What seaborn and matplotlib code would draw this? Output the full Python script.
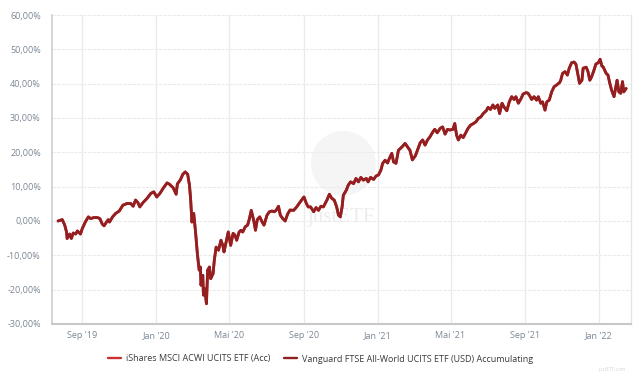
import matplotlib
matplotlib.use("Agg")
import numpy as np
import pandas as pd
import matplotlib.pyplot as plt
import matplotlib.ticker as mticker
from matplotlib.lines import Line2D
from matplotlib.patches import Ellipse
import seaborn as sns

# ---------------------------------------------------------------------------
#   DATA (performance in %)
# ---------------------------------------------------------------------------
dates = [
    "2019-07-23", "2019-07-30", "2019-08-03", "2019-08-06", "2019-08-07", "2019-08-11", "2019-08-14",
    "2019-08-17", "2019-08-21", "2019-08-24", "2019-08-29",
    "2019-09-01", "2019-09-06", "2019-09-11", "2019-09-15", "2019-09-20", "2019-09-26", "2019-09-30",
    "2019-10-04", "2019-10-07", "2019-10-11", "2019-10-14", "2019-10-16", "2019-10-21", "2019-10-26",
    "2019-11-01", "2019-11-07", "2019-11-14", "2019-11-20", "2019-11-24", "2019-11-28",
    "2019-12-02", "2019-12-05", "2019-12-10", "2019-12-17", "2019-12-23", "2019-12-28",
    "2020-01-02", "2020-01-07", "2020-01-14", "2020-01-19", "2020-01-23", "2020-01-29",
    "2020-02-03", "2020-02-05", "2020-02-10", "2020-02-14", "2020-02-18", "2020-02-22", "2020-02-25",
    "2020-02-27", "2020-02-29",
    "2020-03-03", "2020-03-06", "2020-03-09", "2020-03-12", "2020-03-14", "2020-03-15", "2020-03-18",
    "2020-03-19", "2020-03-21", "2020-03-24", "2020-03-26", "2020-03-29", "2020-03-31",
    "2020-04-04", "2020-04-06", "2020-04-09", "2020-04-13", "2020-04-17", "2020-04-20", "2020-04-22",
    "2020-04-26", "2020-04-29",
    "2020-05-03", "2020-05-07", "2020-05-10", "2020-05-13", "2020-05-17", "2020-05-20", "2020-05-23",
    "2020-05-27", "2020-05-31",
    "2020-06-03", "2020-06-06", "2020-06-10", "2020-06-13", "2020-06-16", "2020-06-20", "2020-06-24",
    "2020-06-27",
    "2020-07-02", "2020-07-06", "2020-07-10", "2020-07-14", "2020-07-17", "2020-07-21", "2020-07-24",
    "2020-07-28",
    "2020-08-01", "2020-08-05", "2020-08-09", "2020-08-15", "2020-08-20", "2020-08-26",
    "2020-09-01", "2020-09-05", "2020-09-08", "2020-09-12", "2020-09-17", "2020-09-21", "2020-09-25",
    "2020-09-29",
    "2020-10-03", "2020-10-09", "2020-10-13", "2020-10-17", "2020-10-21", "2020-10-25", "2020-10-28",
    "2020-10-31",
    "2020-11-03", "2020-11-05", "2020-11-10", "2020-11-13", "2020-11-17", "2020-11-22", "2020-11-26",
    "2020-11-30",
    "2020-12-04", "2020-12-08", "2020-12-13", "2020-12-16", "2020-12-20", "2020-12-25", "2020-12-29",
    "2021-01-02", "2021-01-06", "2021-01-09", "2021-01-13", "2021-01-17", "2021-01-20", "2021-01-24",
    "2021-01-27", "2021-01-31",
    "2021-02-04", "2021-02-10", "2021-02-15", "2021-02-19", "2021-02-23", "2021-02-27",
    "2021-03-04", "2021-03-07", "2021-03-12", "2021-03-16", "2021-03-20", "2021-03-24", "2021-03-28",
    "2021-04-02", "2021-04-05", "2021-04-09", "2021-04-14", "2021-04-18", "2021-04-22", "2021-04-26",
    "2021-04-30",
    "2021-05-05", "2021-05-08", "2021-05-11", "2021-05-14", "2021-05-18", "2021-05-22", "2021-05-27",
    "2021-05-30",
    "2021-06-03", "2021-06-08", "2021-06-12", "2021-06-16", "2021-06-20", "2021-06-24", "2021-06-29",
    "2021-07-02", "2021-07-06", "2021-07-10", "2021-07-13", "2021-07-18", "2021-07-21", "2021-07-25",
    "2021-07-28",
    "2021-08-02", "2021-08-06", "2021-08-10", "2021-08-14", "2021-08-17", "2021-08-21", "2021-08-25",
    "2021-08-29",
    "2021-09-03", "2021-09-06", "2021-09-09", "2021-09-12", "2021-09-16", "2021-09-20", "2021-09-23",
    "2021-09-27", "2021-09-30",
    "2021-10-04", "2021-10-07", "2021-10-11", "2021-10-15", "2021-10-19", "2021-10-23", "2021-10-28",
    "2021-10-30",
    "2021-11-02", "2021-11-06", "2021-11-10", "2021-11-13", "2021-11-17", "2021-11-21", "2021-11-24",
    "2021-11-27", "2021-11-30",
    "2021-12-04", "2021-12-06", "2021-12-11", "2021-12-14", "2021-12-17", "2021-12-20", "2021-12-24",
    "2021-12-27", "2021-12-31",
    "2022-01-03", "2022-01-06", "2022-01-08", "2022-01-13", "2022-01-16", "2022-01-19", "2022-01-22",
    "2022-01-26", "2022-01-29", "2022-01-31",
    "2022-02-03", "2022-02-06", "2022-02-09", "2022-02-11", "2022-02-15",
]

ishares = [
    0.0, 0.4, -1.2, -3.2, -5.1, -3.8, -5.1, -3.5, -3.8, -2.9, -3.8,
    -2.2, -0.3, 1.2, 0.7, 1.0, 1.0, 0.7,
    -0.9, -1.4, -0.3, 0.4, -0.3, 1.2, 2.2,
    2.9, 4.6, 5.1, 5.1, 4.3, 6.1,
    5.3, 4.1, 5.3, 6.6, 8.0, 8.5,
    7.0, 8.0, 9.9, 11.1, 10.7, 9.7,
    7.8, 10.8, 12.0, 13.6, 14.3, 13.6, 10.4, 6.1, -0.3,
    2.2, -3.2, -9.5, -14.3, -13.4, -18.7, -15.8, -21.6, -19.7, -24.1, -14.3, -13.4, -16.8,
    -15.3, -11.4, -7.6, -8.5, -5.6, -7.1, -9.0, -5.6, -3.2,
    -7.1, -3.6, -4.1, -5.6, -3.2, -2.7, -3.2, -1.7, -1.2,
    0.7, 3.1, 0.2, -2.7, 0.4, 1.2, -0.3, -1.2,
    1.7, 2.7, 2.9, 2.7, 3.1, 4.3, 1.7, 0.7,
    0.0, 2.0, 3.2, 3.1, 4.1, 5.6,
    7.0, 5.1, 4.1, 4.1, 2.7, 3.9, 3.1, 4.3,
    4.1, 6.1, 7.8, 6.6, 6.1, 4.1, 1.7, 1.2,
    4.1, 7.5, 9.0, 10.4, 11.4, 10.9, 12.4, 11.4,
    12.7, 11.9, 12.4, 11.4, 12.7, 12.1, 13.1,
    13.4, 14.8, 16.8, 17.7, 16.9, 18.2, 19.7, 17.2, 16.8,
    20.6, 21.6, 22.6, 21.6, 20.6, 17.8,
    19.0, 20.4, 22.8, 23.6, 22.1, 23.6, 24.5,
    26.0, 26.7, 25.7, 27.0, 27.4, 25.3, 26.7, 26.5,
    26.7, 28.4, 25.0, 23.6, 25.0, 24.3, 26.0, 27.0,
    27.9, 28.4, 28.9, 29.9, 30.3, 31.3, 32.1,
    33.1, 32.5, 33.8, 32.8, 33.8, 31.3, 34.3, 33.3,
    32.1, 34.7, 36.2, 35.4, 36.2, 34.3, 35.5, 37.0,
    37.4, 37.2, 36.4, 35.4, 36.2, 35.2, 36.2, 34.3, 34.7,
    32.3, 34.7, 35.2, 37.6, 39.1, 39.6, 40.3, 41.0,
    43.0, 43.5, 42.5, 44.5, 46.1, 46.3, 45.7, 43.0, 40.1,
    41.0, 44.5, 44.8, 43.5, 41.0, 42.0, 44.0, 45.7, 46.1,
    47.1, 45.1, 44.9, 43.0, 42.5, 40.1, 38.1, 36.2, 39.1, 41.0,
    37.6, 37.2, 40.6, 37.6, 38.6,
]

# the two funds overlap completely at this resolution
vanguard = list(ishares)

fund_names = ["iShares MSCI ACWI UCITS ETF (Acc)",
              "Vanguard FTSE All-World UCITS ETF (USD) Accumulating"]
fund_colors = ["#c8322f", "#931f21"]

y_ticks = [-30, -20, -10, 0, 10, 20, 30, 40, 50, 60]
x_tick_dates = ["2019-09-01", "2020-01-01", "2020-05-01", "2020-09-01",
                "2021-01-01", "2021-05-01", "2021-09-01", "2022-01-01"]
x_tick_labels = ["Sep '19", "Jan '20", "Mai '20", "Sep '20",
                 "Jan '21", "Mai '21", "Sep '21", "Jan '22"]

assert len(dates) == len(ishares) == len(vanguard)

df = pd.concat([
    pd.DataFrame({"date": pd.to_datetime(dates), "value": ishares, "fund": fund_names[0]}),
    pd.DataFrame({"date": pd.to_datetime(dates), "value": vanguard, "fund": fund_names[1]}),
])

# ---------------------------------------------------------------------------
#   PLOT
# ---------------------------------------------------------------------------
sns.set_style("white")
plt.rcParams['font.family'] = ['Open Sans', 'DejaVu Sans']

W, H = 641, 375
fig = plt.figure(figsize=(W / 100, H / 100), dpi=100)
ax = fig.add_axes([52 / W, 1 - 324 / H, (631 - 52) / W, (324 - 15) / H])

# watermark
ax.add_patch(Ellipse((0.503, 0.52), 0.112, 0.21, transform=ax.transAxes,
                     facecolor="#f5f5f5", edgecolor="none", zorder=0))
ax.text(0.50, 0.345, "justETF", transform=ax.transAxes, ha="center", va="center",
        fontsize=15, color="#ededed", family=["Liberation Serif", "DejaVu Serif"], zorder=0)

sns.lineplot(data=df, x="date", y="value", hue="fund", hue_order=fund_names,
             palette=dict(zip(fund_names, fund_colors)), linewidth=2.0,
             ax=ax, legend=False, zorder=3)

ax.set_xlim(pd.Timestamp("2019-07-13"), pd.Timestamp("2022-02-23"))
ax.set_ylim(-30, 60)
ax.set_yticks(y_ticks)
ax.yaxis.set_major_formatter(mticker.FuncFormatter(lambda v, p: f"{v:.2f}%".replace(".", ",")))
ax.set_xticks(pd.to_datetime(x_tick_dates))
ax.set_xticklabels(x_tick_labels)
ax.set_xlabel("")
ax.set_ylabel("")

ax.yaxis.grid(True, color="#ebebeb", linestyle=(0, (3, 1)), linewidth=0.8)
ax.xaxis.grid(True, color="#ebebeb", linewidth=1.0)
ax.set_axisbelow(True)

ax.spines["top"].set_visible(False)
ax.spines["left"].set_color("#c6cbd1")
ax.spines["left"].set_linewidth(1.1)
ax.spines["bottom"].set_color("#c8c8c8")
ax.spines["bottom"].set_linewidth(1.5)
ax.spines["right"].set_color("#e6e6e6")
ax.spines["right"].set_linewidth(1.0)

ax.tick_params(axis="both", length=0, labelsize=6.5, labelcolor="#7b8794")
ax.tick_params(axis="y", pad=8)
ax.tick_params(axis="x", pad=5)

handles = [Line2D([], [], color=c, linewidth=1.7) for c in fund_colors]
leg = fig.legend(handles, fund_names, loc="center", bbox_to_anchor=(0.5, 1 - 359 / H),
                 ncol=2, frameon=False, fontsize=6.5, handlelength=1.4,
                 handletextpad=0.5, columnspacing=1.6)
for t in leg.get_texts():
    t.set_color("#3a3a3a")

fig.text(612 / W, 1 - 369 / H, "justETF.com", ha="center", va="center",
         fontsize=3.5, color="#d5d5d5")

fig.savefig("out.png", dpi=100)
plt.close(fig)
